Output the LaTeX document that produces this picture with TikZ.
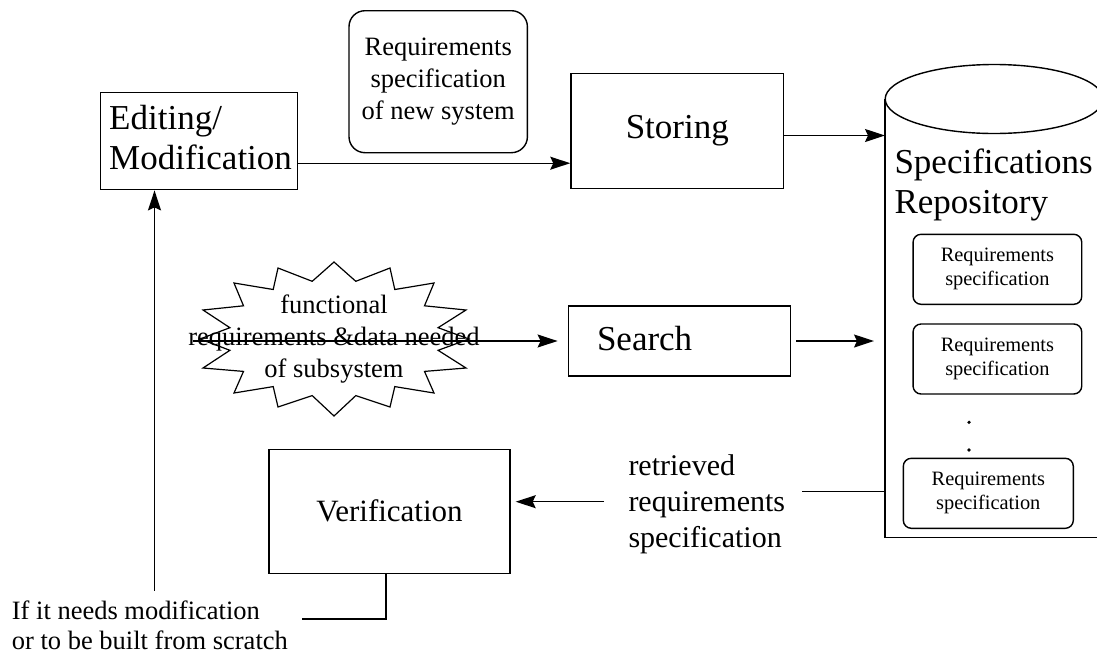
\documentclass[tikz,border=0pt]{standalone}
\usepackage{fontspec}
\setmainfont{Liberation Serif}
\usetikzlibrary{arrows.meta}

\tikzset{
  line/.style={line width=1.4pt},
  arr/.style={line, -{Stealth[length=20pt,width=13pt,inset=3pt]}},
  box/.style={draw, line width=1.4pt, inner sep=0pt},
  rbox/.style={box, rounded corners=16pt},
  sbox/.style={box, rounded corners=8pt},
  big/.style={font=\fontsize{35pt}{40pt}\selectfont},
  mid/.style={font=\fontsize{26.5pt}{32pt}\selectfont},
  small/.style={font=\fontsize{20.4pt}{24pt}\selectfont},
  plain/.style={inner sep=0pt, align=left, anchor=north west}
}

\begin{document}
\begin{tikzpicture}[x=1pt, y=-1pt]
\fill[white] (0,0) rectangle (1097,654);
\useasboundingbox (0,0) rectangle (1097,654);

% process boxes
\node[box, big, anchor=north west, minimum width=197pt, minimum height=97pt,
      text width=180pt, align=left, text depth=48.5pt] (edit) at (100,92) {Editing/\\Modification};
\node[rbox, mid, align=center, minimum width=178.4pt, minimum height=142pt] (newspec)
      at (438.2,81.7) {Requirements\\specification\\of new system};
\node[box, big, minimum width=212.7pt, minimum height=115.4pt] (store) at (677.3,131) {Storing};
\node[box, big, minimum width=222.4pt, minimum height=70pt, text width=165pt,
      align=left, text depth=6pt] (search) at (679.5,341) {Search};
\node[box, font=\fontsize{31pt}{36pt}\selectfont, minimum width=241pt, minimum height=124pt]
      (verif) at (389.5,511.3) {Verification};

% repository cylinder
\node[minimum width=218pt, minimum height=438.3pt, anchor=north west, inner sep=0pt] (repo) at (885,99) {};
\draw[line] (repo.north west) -- (repo.south west) -- (repo.south east) -- (repo.north east);
\draw[line] (repo.north) ellipse [x radius=109pt, y radius=34.5pt];
\node[plain, big] (repolabel) at (894.3,148.8) {Specifications\\Repository};
\node[sbox, small, align=center, minimum width=168.7pt, minimum height=70pt] (rs1) at (997.4,269.3) {Requirements\\specification};
\node[sbox, small, align=center, minimum width=168.7pt, minimum height=70pt] (rs2) at (997.4,359) {Requirements\\specification};
\node[sbox, small, align=center, minimum width=170pt, minimum height=70pt] (rs3) at (988.3,493.3) {Requirements\\specification};
\fill (969,422.3) circle [radius=1.8pt];
\fill (969,450) circle [radius=1.8pt];

% query burst
\draw[line width=1.2pt] (334,262) -- (355.8,281.3) -- (390,268) -- (394.8,289.5) -- (434,283)
  -- (424.5,305.8) -- (466,310) -- (438.1,327.7) -- (469,339) -- (438.1,350.3) -- (466,368)
  -- (424.5,371.4) -- (434,393) -- (394.8,386.6) -- (390,407) -- (355.8,395.6) -- (334,416)
  -- (312.2,395.6) -- (278,407) -- (273.2,386.6) -- (234,393) -- (243.5,371.4) -- (203,368)
  -- (229.9,350.3) -- (200,339) -- (229.9,327.7) -- (203,310) -- (243.5,305.8) -- (234,283)
  -- (273.2,289.5) -- (278,268) -- (312.2,281.3) -- cycle;
\node[mid, align=center, inner sep=0pt] (need) at (334,338.7)
  {functional\\requirements \&data needed\\of subsystem};

% free texts
\node[plain, font=\fontsize{30pt}{36pt}\selectfont] (ret) at (628.3,454.5)
  {retrieved\\requirements\\specification};
\node[plain, font=\fontsize{26.5pt}{30pt}\selectfont] (ifmod) at (11.7,600.2)
  {If it needs modification\\or to be built from scratch};

% connectors
\coordinate (retend) at (801.7,491.7);
\coordinate (retstart) at (604,501.7);
\coordinate (zig) at (302,619);
\coordinate (upfoot) at (154.5,590.7);

\draw[arr] ([yshift=-22pt]edit.east) -- ([yshift=-22pt]edit.east -| store.west);
\draw[arr] ([yshift=-4.5pt]store.east) -- ([yshift=-4.5pt]store.east -| repo.west);
\draw[arr, shorten >=10pt] ([xshift=5pt]need.west |- search.west) -- (search.west);
\draw[arr, shorten <=5pt, shorten >=11pt] (search.east) -- (search.east -| repo.west);
\draw[line] (retend -| repo.west) -- (retend);
\draw[arr, shorten >=5pt] (retstart) -- (retstart -| verif.east);
\draw[line] (zig) -| ([xshift=-3.5pt]verif.south);
\draw[arr] (upfoot) -- (upfoot |- edit.south);
\end{tikzpicture}
\end{document}
